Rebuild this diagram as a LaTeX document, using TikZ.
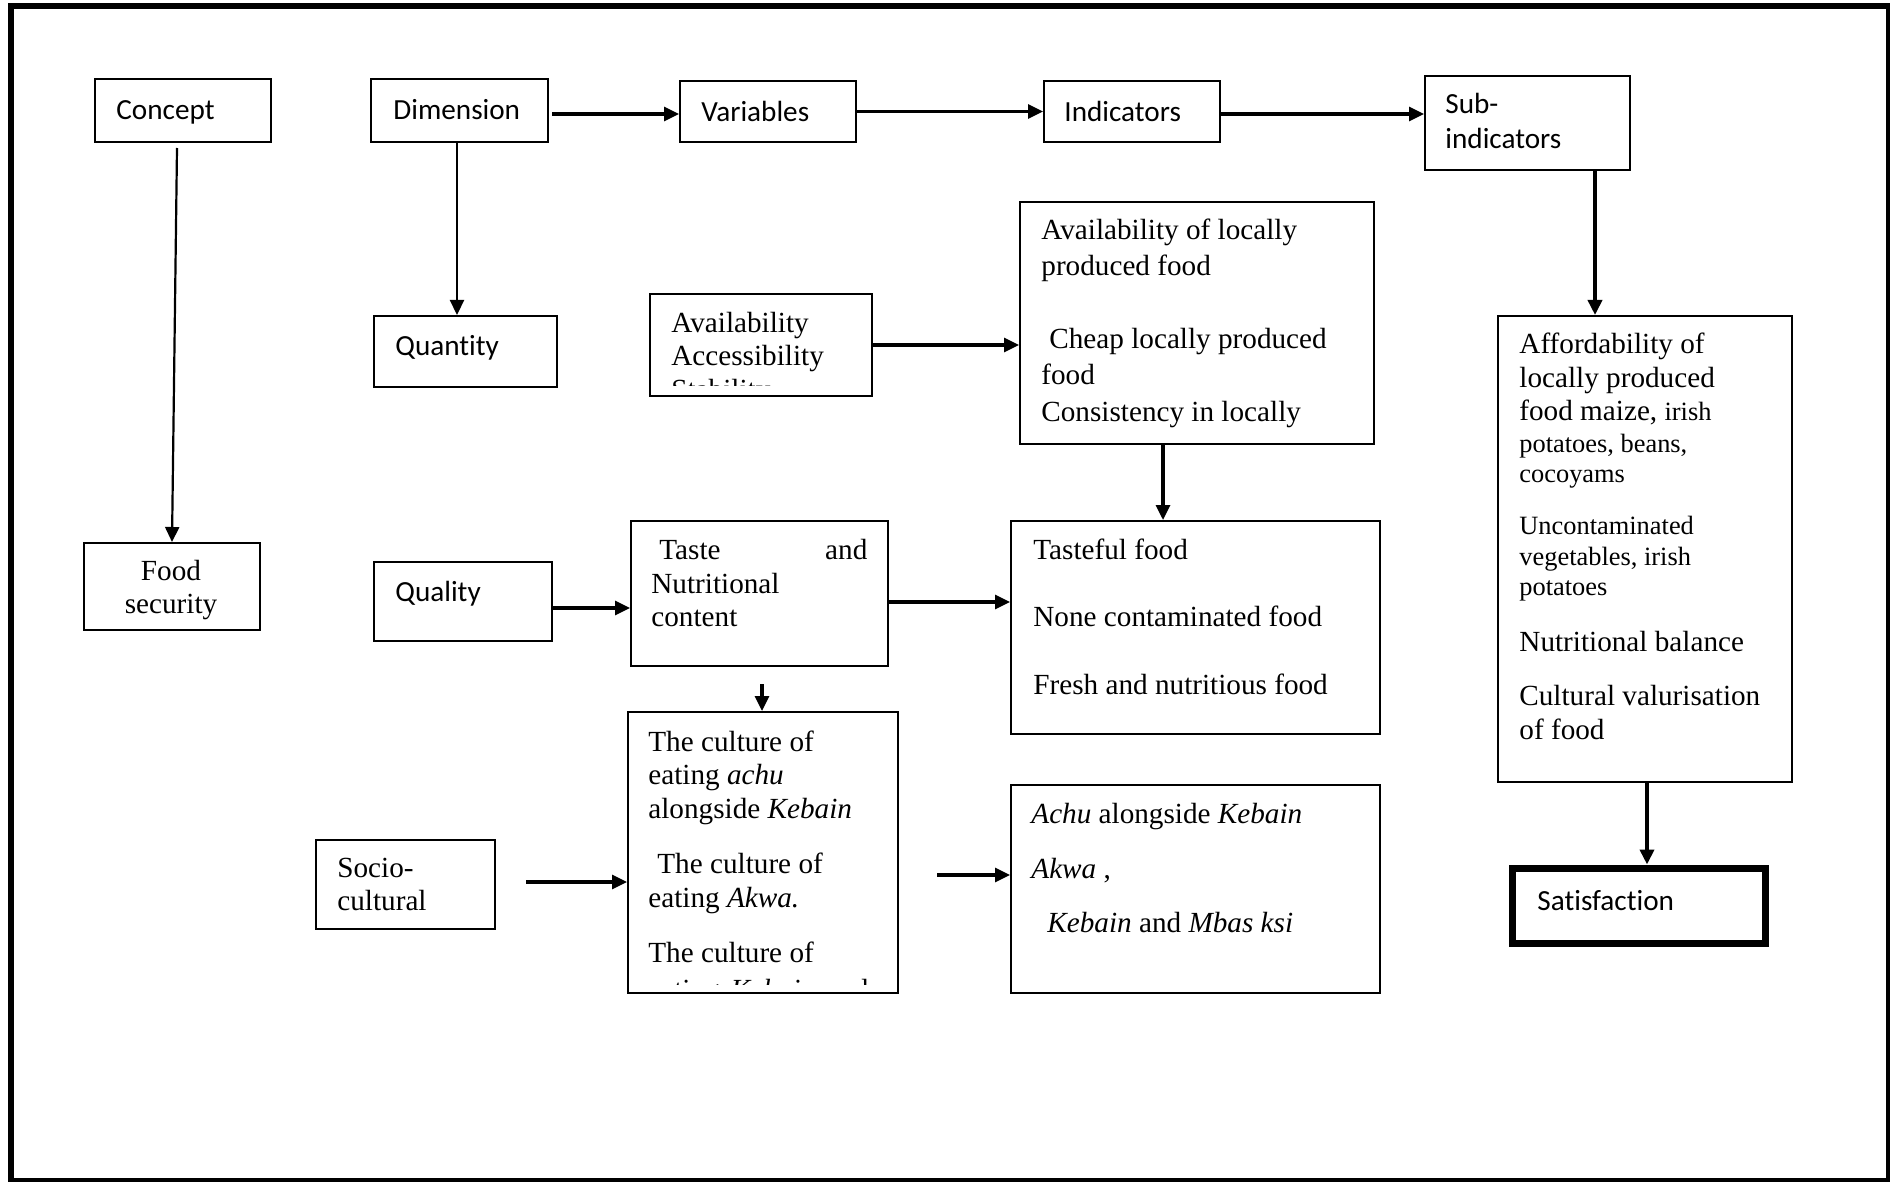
\documentclass[tikz,border=0pt]{standalone}
\usepackage{fontspec}
\setmainfont{Liberation Serif}
\newfontfamily\calib[Ligatures=NoCommon]{Carlito}
\usetikzlibrary{arrows.meta,fit,calc}
\newcommand\fsn{\fontsize{14.6}{17}\selectfont}
\newcommand\fsm{\fontsize{13.2}{15}\selectfont}
\begin{document}
\begin{tikzpicture}[x=0.5pt,y=-0.5pt,
  box/.style={draw, line width=1pt, inner sep=0pt, rectangle},
  tx/.style={anchor=base west, inner sep=0pt, font=\fsn},
  txc/.style={anchor=base, inner sep=0pt, font=\fsn},
  cx/.style={anchor=base west, inner sep=0pt, font=\calib\fsn},
  arr/.style={-{Triangle[length=7.5pt,width=7pt]}, line width=1.6pt},
  arrthin/.style={-{Triangle[length=7.5pt,width=7pt]}, line width=1.1pt}]
\useasboundingbox (0,0) rectangle (1890,1182);
\fill[white] (0,0) rectangle (1890,1182);
% outer frame
\draw[line width=3pt] (11,6) rectangle (1889,1181);

% boxes
\node[box, fit={(95,79) (271,142)}] (concept) {};
\node[box, fit={(371,79) (548,142)}] (dimension) {};
\node[box, fit={(680,81) (856,142)}] (variables) {};
\node[box, fit={(1044,81) (1220,142)}] (indicators) {};
\node[box, fit={(1425,76) (1630,170)}] (subind) {};
\node[box, fit={(374,316) (557,387)}] (quantity) {};
\node[box, fit={(650,294) (872,396)}] (avail) {};
\node[box, fit={(1020,202) (1374,444)}] (ind1) {};
\node[box, fit={(1498,316) (1792,782)}] (right) {};
\node[box, fit={(84,543) (260,630)}] (foodsec) {};
\node[box, fit={(374,562) (552,641)}] (quality) {};
\node[box, fit={(631,521) (888,666)}] (taste) {};
\node[box, fit={(1011,521) (1380,734)}] (tasteful) {};
\node[box, fit={(628,712) (898,993)}] (culture) {};
\node[box, fit={(1011,785) (1380,993)}] (achu) {};
\node[box, fit={(316,840) (495,929)}] (socio) {};
\node[box, line width=3.5pt, fit={(1512,868) (1765,943)}] (satisf) {};

% Calibri labels
\node[cx] (tconcept) at (116,119.5) {Concept};
\node[cx] (tdimension) at (393,119.5) {Dimension};
\node[cx] (tvariables) at (701,121.5) {Variables};
\node[cx] (tindicators) at (1064,121.5) {Indicators};
\node[cx] (tsub1) at (1445,113.5) {Sub-};
\node[cx] (tsub2) at (1445,148.5) {indicators};
\node[cx] (tquantity) at (395,355) {Quantity};
\node[cx] (tquality) at (395,601) {Quality};
\node[cx] (tsatisf) at (1537,910) {Satisfaction};

% Times labels
\node[txc] (tfood1) at (171,580) {Food};
\node[txc] (tfood2) at (171,613) {security};
\node[tx] (tsocio1) at (337,877) {Socio-};
\node[tx] (tsocio2) at (337,910) {cultural};

\begin{scope}
\clip (651,295) rectangle (871,385);
\node[tx] (tav1) at (671,332) {Availability};
\node[tx] (tav2) at (671,365) {Accessibility};
\node[tx] (tav3) at (671,399) {Stability};
\end{scope}

\node[tx] (ti1) at (1041,240) {Availability of locally};
\node[tx] (ti2) at (1041,275.5) {produced food};
\node[tx] (ti3) at (1049,348.5) {Cheap locally produced};
\node[tx] (ti4) at (1041,384.5) {food};
\node[tx] (ti5) at (1041,421) {Consistency in locally};

\node[tx] (tt1) at (659,559) {\hbox to 104pt{Taste\hfill and}};
\node[tx] (tt2) at (651,593) {Nutritional};
\node[tx] (tt3) at (651,626) {content};

\node[tx] (tf1) at (1033,559) {Tasteful food};
\node[tx] (tf2) at (1033,626) {None contaminated food};
\node[tx] (tf3) at (1033,694) {Fresh and nutritious food};

\begin{scope}
\clip (629,713) rectangle (897,984);
\node[tx] (tc1) at (648,751) {The culture of};
\node[tx] (tc2) at (648,784) {eating \textit{achu}};
\node[tx] (tc3) at (648,818.5) {alongside \textit{Kebain}};
\node[tx] (tc4) at (657,873.5) {The culture of};
\node[tx] (tc5) at (648,907.5) {eating \textit{Akwa.}};
\node[tx] (tc6) at (648,962.5) {The culture of};
\node[tx] (tc7) at (648,999) {\hbox to 110pt{eating\hfill\textit{Kebain}\hfill and}};
\end{scope}

\node[tx] (ta1) at (1031,823) {\textit{Achu} alongside \textit{Kebain}};
\node[tx] (ta2) at (1031,878) {\textit{Akwa} ,};
\node[tx] (ta3) at (1047,932) {\textit{Kebain} and \textit{Mbas ksi}};

\node[tx] (tr1) at (1519,353) {Affordability of};
\node[tx] (tr2) at (1519,387.5) {locally produced};
\node[tx] (tr3) at (1519,420.5) {food maize, {\fsm irish}};
\node[tx, font=\fsm] (tr4) at (1519,452) {potatoes, beans,};
\node[tx, font=\fsm] (tr5) at (1519,482) {cocoyams};
\node[tx, font=\fsm] (tr6) at (1519,534.5) {Uncontaminated};
\node[tx, font=\fsm] (tr7) at (1519,565) {vegetables, irish};
\node[tx, font=\fsm] (tr8) at (1519,595) {potatoes};
\node[tx] (tr9) at (1519,651) {Nutritional balance};
\node[tx] (tr10) at (1519,705.5) {Cultural valurisation};
\node[tx] (tr11) at (1519,739) {of food};

% connectors
\draw[arrthin] ($(concept.south)+(-6,5)$) -- (foodsec.north);
\coordinate (dq) at ($(dimension.south)+(-2.5,0)$);
\draw[arrthin] (dq) -- (dq |- quantity.north);
\draw[arr] ($(dimension.east)+(3,3.5)$) -- ($(variables.west)+(0,2.5)$);
\draw[arr] (variables.east) -- (indicators.west);
\draw[arr] ($(indicators.east)+(0,2.5)$) -- ($(subind.west)+(0,-9)$);
\coordinate (sr) at ($(subind.south)+(67.5,0)$);
\draw[arr, line width=1.8pt] (sr) -- (sr |- right.north);
\draw[arr] (avail.east) -- (avail.east -| ind1.west);
\coordinate (it) at ($(ind1.south)+(-34,0)$);
\draw[arr] (it) -- (it |- tasteful.north);
\coordinate (qt) at ($(quality.east)+(0,6.5)$);
\draw[arr] (qt) -- (qt -| taste.west);
\coordinate (tt) at ($(taste.east)+(0,8.5)$);
\draw[arr] (tt) -- (tt -| tasteful.west);
\coordinate (tc) at ($(taste.south)+(2.5,17)$);
\draw[arr] (tc) -- (tc |- culture.north);
\coordinate (sc) at ($(socio.east)+(30,-2.5)$);
\draw[arr] (sc) -- (sc -| culture.west);
\coordinate (ca) at ($(culture.east)+(38,22.5)$);
\draw[arr] (ca) -- (ca -| achu.west);
\coordinate (rs) at ($(right.south)+(2,0)$);
\draw[arr, line width=2.2pt] (rs) -- (rs |- satisf.north);
\end{tikzpicture}
\end{document}
